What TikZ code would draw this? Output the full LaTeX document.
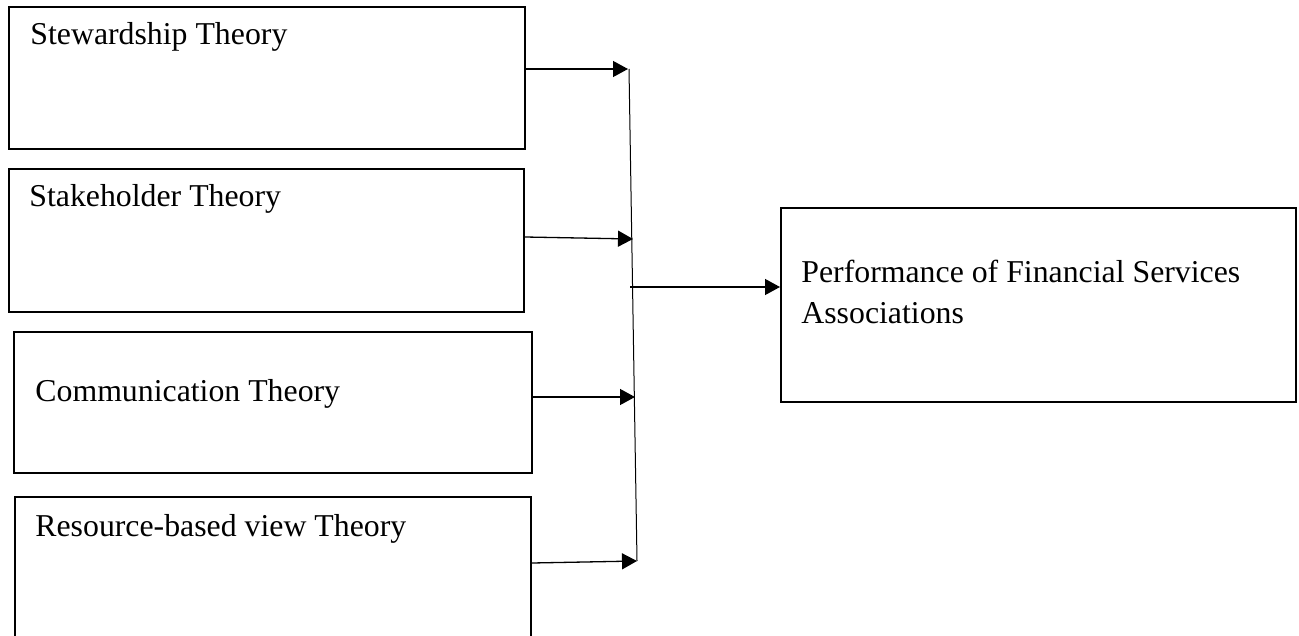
\documentclass[tikz,border=0pt]{standalone}
\usepackage{fontspec}
\setmainfont{Liberation Serif}
\usetikzlibrary{positioning, calc, arrows.meta}

\begin{document}
\begin{tikzpicture}[x=0.5pt, y=-0.5pt,
		theorybox/.style={draw, line width=1pt, inner sep=0pt},
		boxtext/.style={anchor=base west, inner sep=0pt, align=left, font=\fontsize{15.9}{20.5}\selectfont},
		arr/.style={-{Triangle[length=7.5pt,width=8pt]}, line width=0.65pt}]
			\clip (0,0) rectangle (1299,636);
			% theory boxes on the left
			\node (stew) at (267, 78) [theorybox, minimum width=258pt, minimum height=71pt] {};
			\node (stake) at (266.5, 240.5) [theorybox, minimum width=257.5pt, minimum height=71.5pt] {};
			\node (comm) at (273, 402.5) [theorybox, minimum width=259pt, minimum height=70.5pt] {};
			\node (res) at (273, 578.5) [theorybox, minimum width=258pt, minimum height=81.5pt] {};
			\node (perf) at (1038.5, 305) [theorybox, minimum width=257.5pt, minimum height=97pt] {};
			
			\node (stewtxt) at ([shift={(22,39)}]stew.north west) [boxtext] {Stewardship Theory};
			\node (staketxt) at ([shift={(21,38)}]stake.north west) [boxtext] {Stakeholder Theory};
			\node (commtxt) at ([shift={(22,70)}]comm.north west) [boxtext] {Communication Theory};
			\node (restxt) at ([shift={(21,40)}]res.north west) [boxtext] {Resource-based view Theory};
			\node (perftxt) at ([shift={(21,116.5)}]perf.north west) [boxtext] {Performance of Financial Services\\Associations};
			
			% arrow ends on the joining line
			\coordinate (t1) at (628, 69);
			\coordinate (t2) at (633, 239);
			\coordinate (t3) at (635, 397);
			\coordinate (t4) at (637, 561);
			\coordinate (hub) at (630, 287);
			
			\draw[arr] ([yshift=4.5pt]stew.east) to (t1);
			\draw[arr] ([yshift=1.75pt]stake.east) to (t2);
			\draw[arr] ([yshift=2.75pt]comm.east) to (t3);
			\draw[arr] ([yshift=7.75pt]res.east) to (t4);
			\draw[line width=0.5pt] ([xshift=0.5pt]t1) to (t4);
			\draw[arr] (hub) to (hub -| perf.west);
		\end{tikzpicture}
\end{document}
